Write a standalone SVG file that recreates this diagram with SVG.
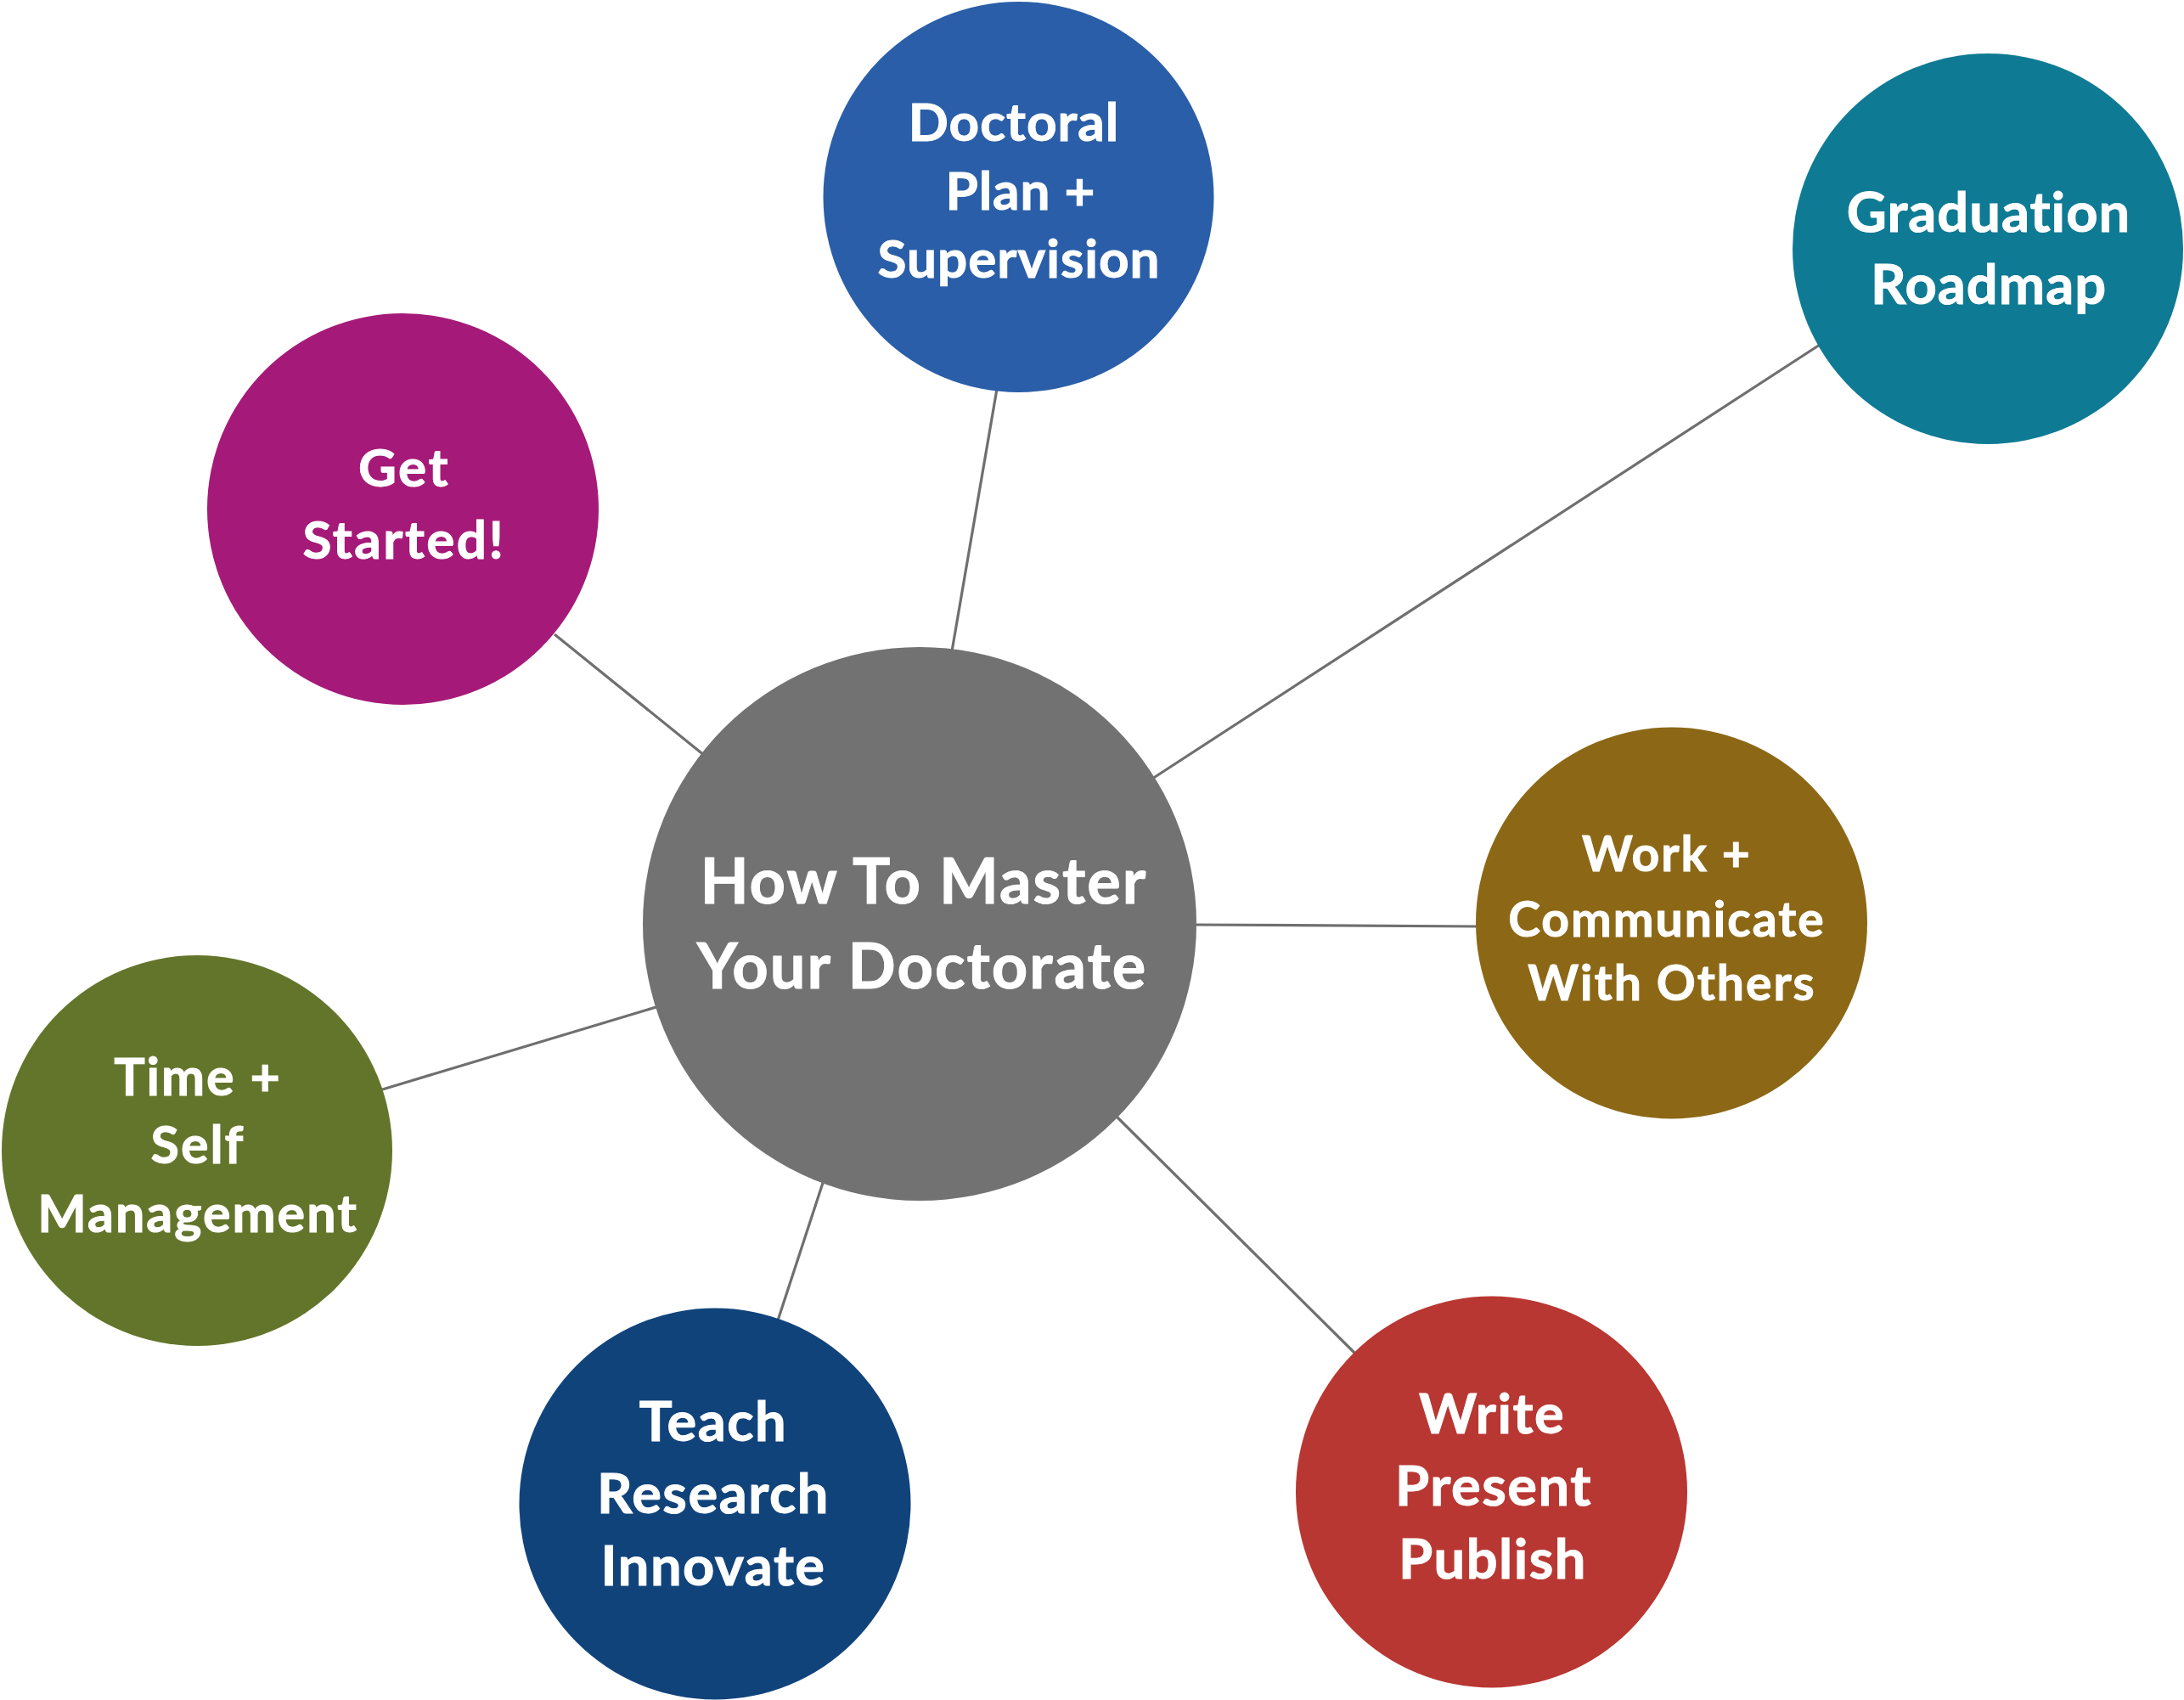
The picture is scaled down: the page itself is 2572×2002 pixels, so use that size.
<svg xmlns="http://www.w3.org/2000/svg" width="2572" height="2002" viewBox="0 0 2572 2002">
<style>
.bg{fill:#ffffff}
.conn line{stroke:#6f6f6f;stroke-width:3.2;fill:none}
.lbl{font-family:Lato,"Liberation Sans",sans-serif;font-weight:700;fill:#ffffff;stroke:#ffffff;stroke-width:1;text-anchor:middle;letter-spacing:1px}
</style>
<rect class="bg" x="0" y="0" width="2572" height="2002"/>
<g id="connectors" class="conn">
<line x1="653" y1="747" x2="830" y2="890"/>
<line x1="1174" y1="458" x2="1121" y2="767"/>
<line x1="2143" y1="406" x2="1357" y2="917"/>
<line x1="1405" y1="1089" x2="1741" y2="1091"/>
<line x1="447" y1="1284" x2="776" y2="1185"/>
<line x1="916" y1="1555" x2="970" y2="1390"/>
<line x1="1314" y1="1314" x2="1596" y2="1594"/>
</g>
<g id="center">
<circle cx="1083" cy="1088" r="326" fill="#727272"/>
<text class="lbl" font-size="74" style="letter-spacing:2px"><tspan x="1088" y="1064">How To Master</tspan><tspan x="1086" y="1164">Your Doctorate</tspan></text>
</g>
<g id="doctoral">
<circle cx="1199.5" cy="232" r="230" fill="#2a5ea8"/>
<text class="lbl" font-size="62"><tspan x="1194" y="166">Doctoral</tspan><tspan x="1202" y="247">Plan +</tspan><tspan x="1200" y="327">Supervision</tspan></text>
</g>
<g id="graduation">
<circle cx="2341" cy="293" r="230" fill="#0f7a94"/>
<text class="lbl" font-size="65"><tspan x="2342" y="273">Graduation</tspan><tspan x="2342" y="358">Roadmap</tspan></text>
</g>
<g id="getstarted">
<circle cx="474.5" cy="599.5" r="230.5" fill="#a51a78"/>
<text class="lbl" font-size="62" style="letter-spacing:2.5px"><tspan x="476" y="573">Get</tspan><tspan x="476" y="658">Started!</tspan></text>
</g>
<g id="work">
<circle cx="1968.5" cy="1087" r="230.5" fill="#8c6816"/>
<text class="lbl" font-size="57" style="letter-spacing:2px"><tspan x="1963" y="1026">Work +</tspan><tspan x="1963" y="1103">Communicate</tspan><tspan x="1969" y="1178">With Others</tspan></text>
</g>
<g id="time">
<circle cx="232" cy="1355" r="230" fill="#63752b"/>
<text class="lbl" font-size="61" style="letter-spacing:2px"><tspan x="233" y="1290">Time +</tspan><tspan x="233" y="1370">Self</tspan><tspan x="233" y="1451">Management</tspan></text>
</g>
<g id="teach">
<circle cx="842" cy="1771" r="230.5" fill="#11437b"/>
<text class="lbl" font-size="65" style="letter-spacing:1.5px"><tspan x="840" y="1697">Teach</tspan><tspan x="840" y="1782">Research</tspan><tspan x="840" y="1867">Innovate</tspan></text>
</g>
<g id="write">
<circle cx="1756.5" cy="1757" r="230.5" fill="#b83732"/>
<text class="lbl" font-size="65" style="letter-spacing:1.5px"><tspan x="1757" y="1688">Write</tspan><tspan x="1759" y="1773">Present</tspan><tspan x="1758" y="1859">Publish</tspan></text>
</g>
</svg>
